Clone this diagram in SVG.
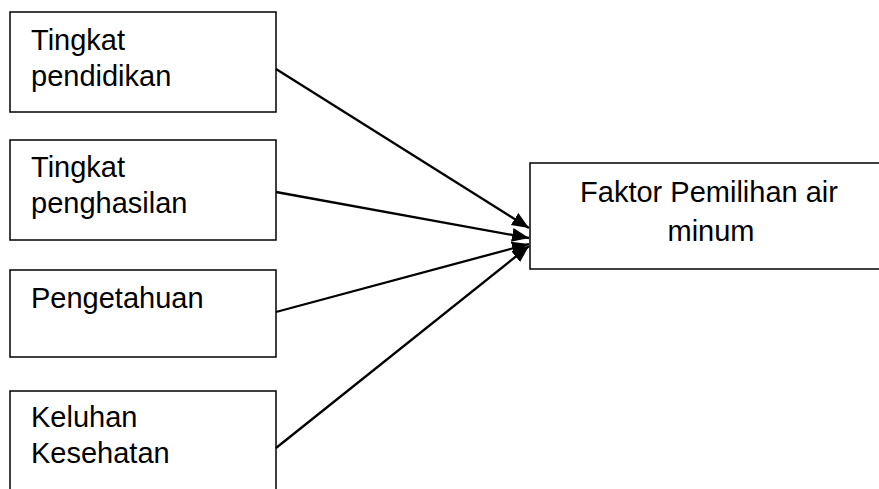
<svg xmlns="http://www.w3.org/2000/svg" width="879" height="489" viewBox="0 0 879 489">
<defs>
<style>
.box{fill:#fff;stroke:#000;stroke-width:1.5}
.t{font-family:"Liberation Sans",Arial,sans-serif;font-size:29px;fill:#000}
.c{fill:none;stroke:#000;stroke-width:2.3}
</style>
<marker id="ah" markerUnits="userSpaceOnUse" markerWidth="20" markerHeight="16" refX="17" refY="7" orient="auto">
<path d="M0,0 L17,7 L0,14 z" fill="#000"/>
</marker>
</defs>
<rect width="879" height="489" fill="#fff"/>
<g id="n1">
<rect class="box" x="10" y="12" width="266" height="100"/>
<text class="t" x="31" y="50">Tingkat</text>
<text class="t" x="31" y="86">pendidikan</text>
</g>
<g id="n2">
<rect class="box" x="10" y="140" width="266" height="100"/>
<text class="t" x="31" y="177">Tingkat</text>
<text class="t" x="31" y="213">penghasilan</text>
</g>
<g id="n3">
<rect class="box" x="10" y="270" width="266" height="87"/>
<text class="t" x="31" y="308">Pengetahuan</text>
</g>
<g id="n4">
<rect class="box" x="10" y="391" width="266" height="120"/>
<text class="t" x="31" y="427">Keluhan</text>
<text class="t" x="31" y="463">Kesehatan</text>
</g>
<g id="target">
<rect class="box" x="530" y="163" width="400" height="106"/>
<text class="t" x="709" y="202" text-anchor="middle">Faktor Pemilihan air</text>
<text class="t" x="711" y="241" text-anchor="middle">minum</text>
</g>
<g id="connectors">
<line class="c" x1="276" y1="69" x2="529" y2="228" marker-end="url(#ah)"/>
<line class="c" x1="276" y1="192" x2="529" y2="238" marker-end="url(#ah)"/>
<line class="c" x1="276" y1="312" x2="529" y2="244" marker-end="url(#ah)"/>
<line class="c" x1="276" y1="448" x2="529" y2="246" marker-end="url(#ah)"/>
</g>
</svg>
